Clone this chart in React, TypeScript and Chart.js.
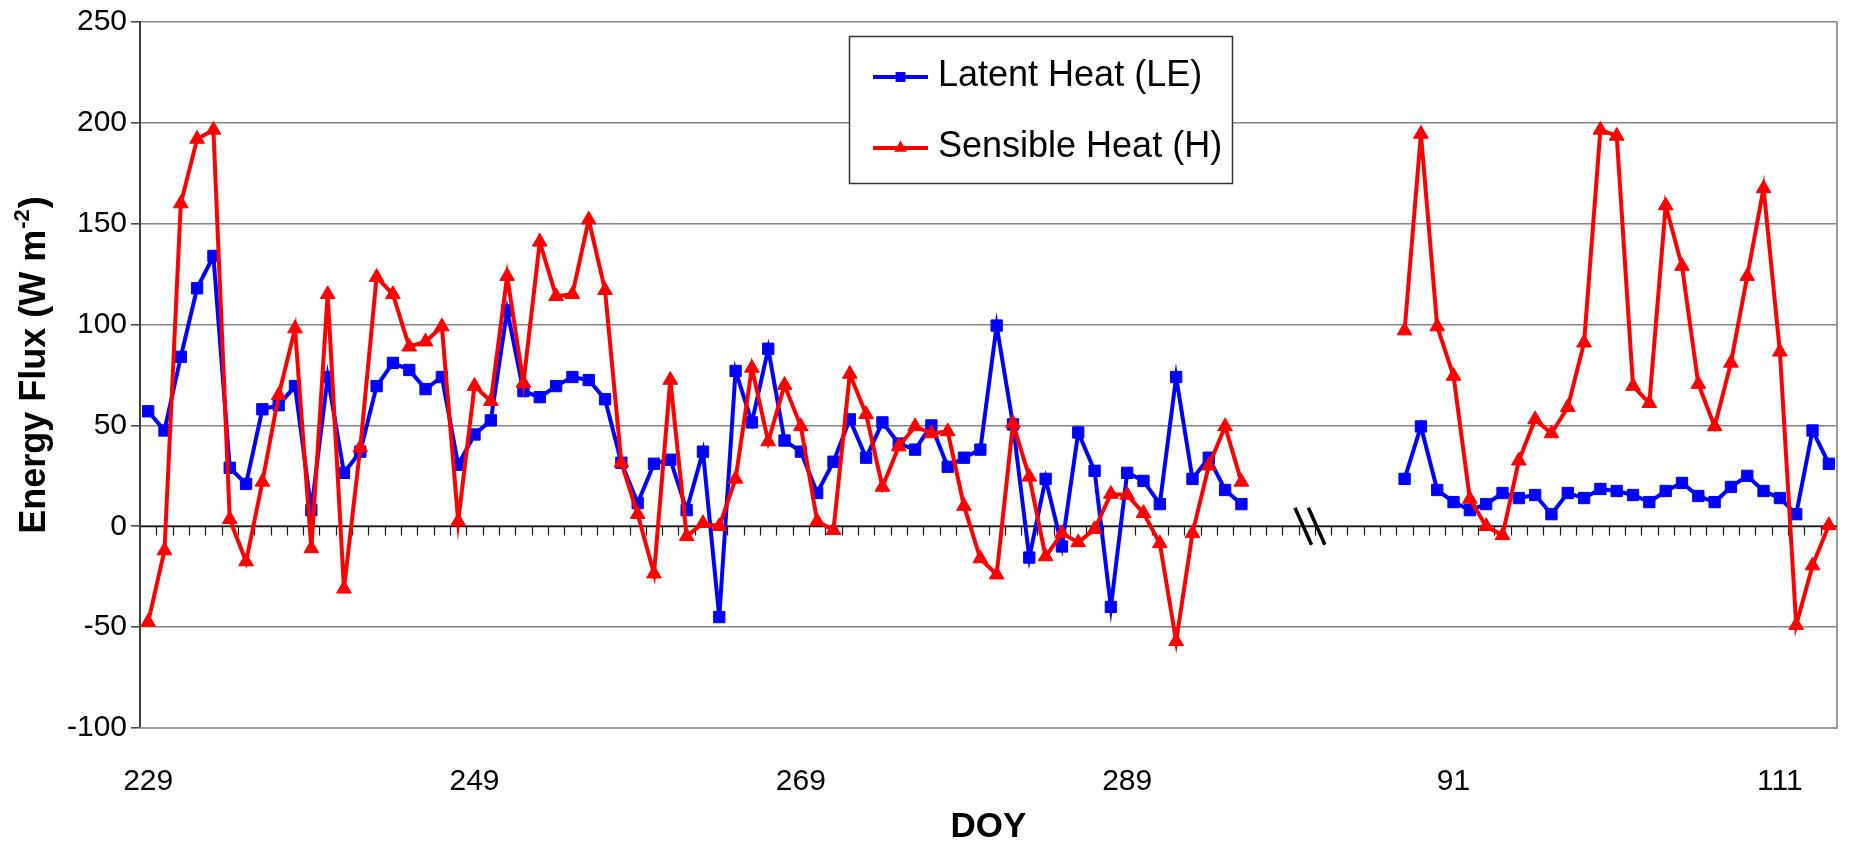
import React, { useEffect, useRef } from 'react';
import { Chart, registerables } from 'chart.js';

Chart.register(...registerables);
Chart.defaults.font.family = '"Liberation Sans", Arial, Helvetica, sans-serif';

// ---- Data ----
const doySeg1 = [
  '229', '230', '231', '232', '233', '234', '235', '236', '237', '238',
  '239', '240', '241', '242', '243', '244', '245', '246', '247', '248',
  '249', '250', '251', '252', '253', '254', '255', '256', '257', '258',
  '259', '260', '261', '262', '263', '264', '265', '266', '267', '268',
  '269', '270', '271', '272', '273', '274', '275', '276', '277', '278',
  '279', '280', '281', '282', '283', '284', '285', '286', '287', '288',
  '289', '290', '291', '292', '293', '294', '295', '296',
];
const gapLabels = ['', '', '', '', '', '', '', '', ''];
const doySeg2 = [
  '88', '89', '90', '91', '92', '93', '94', '95', '96', '97',
  '98', '99', '100', '101', '102', '103', '104', '105', '106', '107',
  '108', '109', '110', '111', '112', '113', '114',
];

const leSeg1 = [
  57, 47.5, 84, 118, 134, 29, 21, 58, 60, 69.5,
  8, 74, 26.5, 37, 69.5, 81, 77.5, 68, 74, 30.5,
  45.5, 52.5, 107, 67, 64, 69.5, 74, 72.5, 63, 31.5,
  11.5, 31, 33, 8, 37, -45, 77, 51.5, 88, 42.5,
  37, 16.5, 32, 53, 34, 51.5, 41, 38, 50, 29.5,
  34, 38, 99.5, 50.5, -15.5, 23.5, -10, 46.5, 27.5, -40,
  26.5, 22.5, 11, 74, 23.5, 34, 18, 11,
];
const hSeg1 = [
  -47.5, -12, 160, 192, 196.5, 3.5, -17.5, 22, 65, 98,
  -11, 115, -31, 39, 123.5, 115, 89, 91.5, 99, 2.5,
  69.5, 62, 124, 71, 141, 114, 115, 152, 117, 31.5,
  6, -23.5, 72.5, -5, 1.5, 0, 23.5, 78.5, 42, 70,
  49.5, 2.5, -2, 75.5, 55.5, 19.5, 39.5, 49.5, 46, 47,
  10, -16, -24, 51, 24.5, -15, -3.5, -8, -1.5, 16,
  15.5, 6.5, -8.5, -57, -3.5, 30, 49.5, 22,
];
const gapValues = [null, null, null, null, null, null, null, null, null];
const leSeg2 = [
  23.5, 49.5, 18, 12, 8, 11, 16.5, 14, 15.5, 6,
  16.5, 14, 18.5, 17.5, 15.5, 12, 17.5, 21.5, 15, 12,
  19.5, 25, 17.5, 14, 6, 47.5, 31,
];
const hSeg2 = [
  97, 194.5, 99, 74.5, 13.5, 0, -4.5, 32.5, 53, 46,
  59, 91, 196.5, 193.5, 69.5, 61, 159, 129, 70.5, 49.5,
  81, 124, 167.5, 86.5, -49, -19.5, 0.5,
];

const yMin = -100;
const yMax = 250;
const yStep = 50;
const labelEvery = 20;

const seriesNames = ['Latent Heat (LE)', 'Sensible Heat (H)'];
const yTitle = 'Energy Flux (W m';
const yTitleSup = '-2';
const yTitleEnd = ')';
const xTitle = 'DOY';

const FONT = '"Liberation Sans", Arial, Helvetica, sans-serif';

function drawMarker(ctx: CanvasRenderingContext2D, style: string, x: number, y: number, r: number, color: string) {
  ctx.save();
  ctx.fillStyle = color;
  ctx.beginPath();
  if (style === 'rect') {
    const s = r * Math.SQRT1_2;
    ctx.rect(x - s, y - s, 2 * s, 2 * s);
  } else {
    ctx.moveTo(x, y - r);
    ctx.lineTo(x + 0.866 * r, y + r / 2);
    ctx.lineTo(x - 0.866 * r, y + r / 2);
    ctx.closePath();
  }
  ctx.fill();
  ctx.restore();
}

const decorPlugin = {
  id: 'decor',
  beforeDatasetsDraw(chart: any) {
    const { ctx, chartArea: a, scales } = chart;
    const xs = scales.x;
    const ys = scales.y;
    ctx.save();
    // plot area border (right & bottom)
    ctx.strokeStyle = '#9a9a9a';
    ctx.lineWidth = 2;
    ctx.beginPath();
    ctx.moveTo(a.left, a.bottom);
    ctx.lineTo(a.right, a.bottom);
    ctx.lineTo(a.right, a.top);
    ctx.stroke();
    // zero axis with category tick marks
    const y0 = Math.round(ys.getPixelForValue(0)) + 0.5;
    const n = xs.getLabels().length;
    const step = xs.getPixelForValue(1) - xs.getPixelForValue(0);
    ctx.strokeStyle = '#1a1a1a';
    ctx.lineWidth = 1.5;
    ctx.beginPath();
    ctx.moveTo(a.left, y0);
    ctx.lineTo(a.right, y0);
    ctx.stroke();
    ctx.lineWidth = 1.2;
    ctx.beginPath();
    for (let k = 1; k < n; k++) {
      const px = Math.round(xs.getPixelForValue(k) - step / 2) + 0.5;
      ctx.moveTo(px, y0);
      ctx.lineTo(px, y0 + 9);
    }
    ctx.stroke();
    ctx.restore();
  },
  afterDatasetsDraw(chart: any) {
    const { ctx, scales } = chart;
    const xs = scales.x;
    const ys = scales.y;
    const step = xs.getPixelForValue(1) - xs.getPixelForValue(0);
    // axis break symbol between the two periods
    const breakIndex = doySeg1.length + 3;
    const cx = xs.getPixelForValue(breakIndex) + 0.2 * step;
    const y0 = ys.getPixelForValue(0);
    ctx.save();
    ctx.strokeStyle = '#000';
    ctx.lineWidth = 3.5;
    ctx.beginPath();
    for (const off of [-6.7, 6.7]) {
      ctx.moveTo(cx + off - 8.3, y0 - 18.5);
      ctx.lineTo(cx + off + 8.3, y0 + 18.5);
    }
    ctx.stroke();

    // legend box
    const bx = 849, by = 36, bw = 383, bh = 147;
    ctx.fillStyle = '#fff';
    ctx.fillRect(bx, by, bw, bh);
    ctx.strokeStyle = '#333';
    ctx.lineWidth = 1.5;
    ctx.strokeRect(bx + 0.5, by + 0.5, bw, bh);
    const rows = [77, 148];
    chart.data.datasets.forEach((ds: any, i: number) => {
      const ry = rows[i];
      ctx.strokeStyle = ds.borderColor;
      ctx.lineWidth = ds.borderWidth;
      ctx.beginPath();
      ctx.moveTo(873, ry);
      ctx.lineTo(928, ry);
      ctx.stroke();
      drawMarker(ctx, ds.pointStyle, 900.5, ry, ds.pointRadius - 1, ds.borderColor);
      ctx.fillStyle = '#000';
      ctx.font = `36px ${FONT}`;
      ctx.textAlign = 'left';
      ctx.textBaseline = 'middle';
      ctx.fillText(ds.label, 938, ry - 1);
    });
    ctx.restore();
  },
  afterDraw(chart: any) {
    const { ctx, chartArea: a } = chart;
    ctx.save();
    ctx.fillStyle = '#000';
    // x title
    ctx.font = `bold 35px ${FONT}`;
    ctx.textAlign = 'center';
    ctx.textBaseline = 'middle';
    ctx.fillText(xTitle, (a.left + a.right) / 2, 827);
    // y title with superscript
    ctx.translate(45, 366);
    ctx.rotate(-Math.PI / 2);
    ctx.textAlign = 'left';
    ctx.textBaseline = 'alphabetic';
    const big = `bold 36px ${FONT}`;
    const small = `bold 22px ${FONT}`;
    ctx.font = big;
    const w1 = ctx.measureText(yTitle).width;
    const w3 = ctx.measureText(yTitleEnd).width;
    ctx.font = small;
    const w2 = ctx.measureText(yTitleSup).width;
    const sx = -(w1 + w2 + w3) / 2;
    ctx.font = big;
    ctx.fillText(yTitle, sx, 0);
    ctx.font = small;
    ctx.fillText(yTitleSup, sx + w1 + 1, -16);
    ctx.font = big;
    ctx.fillText(yTitleEnd, sx + w1 + w2 + 2, 0);
    ctx.restore();
  },
};

export default function App() {
  const ref = useRef<HTMLCanvasElement | null>(null);

  useEffect(() => {
    if (!ref.current) return;
    const labels = [...doySeg1, ...gapLabels, ...doySeg2];
    const leData = [...leSeg1, ...gapValues, ...leSeg2];
    const hData = [...hSeg1, ...gapValues, ...hSeg2];

    const chart = new Chart(ref.current, {
      type: 'line',
      data: {
        labels,
        datasets: [
          {
            label: seriesNames[0],
            data: leData,
            borderColor: '#0000ff',
            backgroundColor: '#0000ff',
            borderWidth: 4,
            pointStyle: 'rect',
            pointRadius: 8,
            pointBorderWidth: 1,
            pointBackgroundColor: '#0000ff',
            pointBorderColor: '#0000ff',
            tension: 0,
            spanGaps: false,
            order: 1,
          },
          {
            label: seriesNames[1],
            data: hData,
            borderColor: '#ff0000',
            backgroundColor: '#ff0000',
            borderWidth: 4,
            pointStyle: 'triangle',
            pointRadius: 8.5,
            pointBorderWidth: 1,
            pointBackgroundColor: '#ff0000',
            pointBorderColor: '#ff0000',
            tension: 0,
            spanGaps: false,
            order: 0,
          },
        ],
      },
      options: {
        responsive: false,
        animation: false,
        devicePixelRatio: 1,
        layout: { padding: { top: 20, right: 12, left: 0, bottom: 0 } },
        plugins: {
          legend: { display: false },
          tooltip: { enabled: false },
          title: { display: false },
        },
        scales: {
          x: {
            type: 'category',
            offset: true,
            grid: { display: false, drawTicks: false },
            border: { display: false },
            ticks: {
              autoSkip: false,
              maxRotation: 0,
              minRotation: 0,
              padding: 36,
              color: '#000',
              font: { size: 30 },
              callback: function (this: any, v: any, i: number) {
                return i % labelEvery === 0 ? this.getLabelForValue(v) : '';
              },
            },
            afterFit: (s: any) => {
              s.height = 117;
              s.paddingLeft = 0;
              s.paddingRight = 0;
            },
          },
          y: {
            min: yMin,
            max: yMax,
            ticks: { stepSize: yStep, color: '#000', font: { size: 30 }, padding: 4 },
            grid: { color: '#858585', lineWidth: 1.6, tickLength: 9, tickColor: '#404040', tickWidth: 1.5 },
            border: { display: true, color: '#404040', width: 2 },
            afterFit: (s: any) => {
              s.width = 140;
            },
          },
        },
      },
      plugins: [decorPlugin],
    } as any);

    return () => chart.destroy();
  }, []);

  return (
    <div style={{ position: 'fixed', left: 0, top: 0, width: 1849, height: 845, background: '#fff' }}>
      <canvas ref={ref} width={1849} height={845} style={{ width: 1849, height: 845, display: 'block' }} />
    </div>
  );
}
